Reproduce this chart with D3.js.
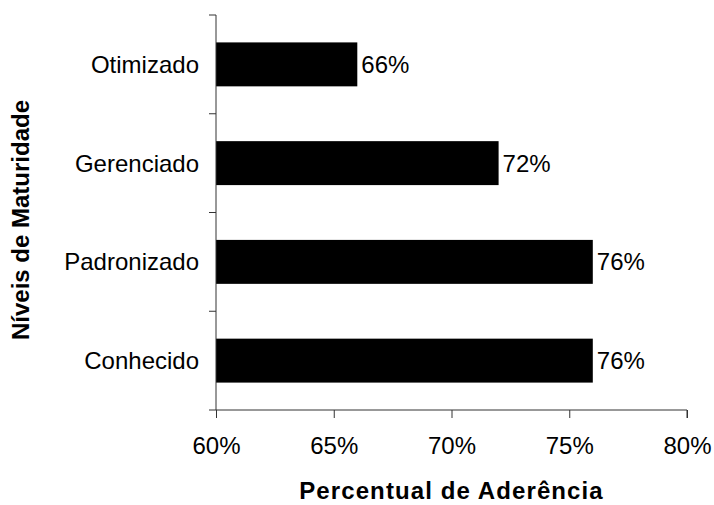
<!DOCTYPE html>
<html>
<head>
<meta charset="utf-8">
<script src="https://d3js.org/d3.v7.min.js"></script>
<style>
  body { margin: 0; background: #fff; }
  text { font-family: "Liberation Sans", Arial, sans-serif; }
</style>
</head>
<body>
<div id="chart"></div>
<script>
// data
var levels = ["Otimizado", "Gerenciado", "Padronizado", "Conhecido"]
var adherence = [66, 72, 76, 76]
var xTicks = [60, 65, 70, 75, 80]

var W = 714, H = 505
var margin = { top: 15, right: 27, bottom: 95, left: 216 }

var svg = d3.select("#chart").append("svg")
    .attr("width", W).attr("height", H)

var x = d3.scaleLinear().domain([60, 80]).range([margin.left, W - margin.right])
var y = d3.scaleBand().domain(levels).range([margin.top, H - margin.bottom]).paddingInner(0.555).paddingOuter(0.2775)

var rows = levels.map(function(d, i) { return { level: d, value: adherence[i] } })

// bars
svg.selectAll("rect.bar").data(rows).enter().append("rect")
    .attr("class", "bar")
    .attr("x", x(60))
    .attr("y", d => y(d.level))
    .attr("width", d => x(d.value) - x(60))
    .attr("height", y.bandwidth())
    .attr("fill", "#000")

// value labels
svg.selectAll("text.val").data(rows).enter().append("text")
    .attr("class", "val")
    .attr("x", d => x(d.value) + 4)
    .attr("y", d => y(d.level) + y.bandwidth() / 2)
    .attr("dy", "0.35em")
    .attr("font-size", 24)
    .text(d => d.value + "%")

// x axis
var xAxis = svg.append("g")
    .attr("transform", "translate(0," + (H - margin.bottom) + ")")
    .call(d3.axisBottom(x).tickValues(xTicks).tickSize(8).tickPadding(19).tickFormat(d => d + "%"))
xAxis.select(".domain").attr("stroke", "#333").attr("d", "M" + x(60) + ",0H" + x(80) + "V8")
xAxis.selectAll(".tick line").attr("stroke", "#333")
xAxis.selectAll("text").attr("font-size", 24).attr("fill", "#000")
    .style("font-family", "'Liberation Sans', Arial, sans-serif")

// y axis: ticks between categories
var yEdges = levels.map(d => y(d) - y.step() * y.paddingInner() / 2)
yEdges.push(H - margin.bottom)
svg.append("line")
    .attr("x1", x(60)).attr("x2", x(60))
    .attr("y1", yEdges[0]).attr("y2", H - margin.bottom)
    .attr("stroke", "#333")
svg.selectAll("line.ytick").data(yEdges).enter().append("line")
    .attr("class", "ytick")
    .attr("x1", x(60) - 7).attr("x2", x(60))
    .attr("y1", d => d).attr("y2", d => d)
    .attr("stroke", "#333")

// category labels
svg.selectAll("text.cat").data(levels).enter().append("text")
    .attr("class", "cat")
    .attr("x", x(60) - 17)
    .attr("y", d => y(d) + y.bandwidth() / 2)
    .attr("dy", "0.35em")
    .attr("text-anchor", "end")
    .attr("font-size", 24)
    .text(d => d)

// axis titles
svg.append("text")
    .attr("x", (x(60) + x(80)) / 2)
    .attr("y", 499)
    .attr("text-anchor", "middle")
    .attr("font-size", 24)
    .attr("font-weight", "bold")
    .attr("letter-spacing", 1.1)
    .text("Percentual de Aderência")

svg.append("text")
    .attr("transform", "translate(29,220) rotate(-90)")
    .attr("text-anchor", "middle")
    .attr("font-size", 24)
    .attr("font-weight", "bold")
    .text("Níveis de Maturidade")
</script>
</body>
</html>
